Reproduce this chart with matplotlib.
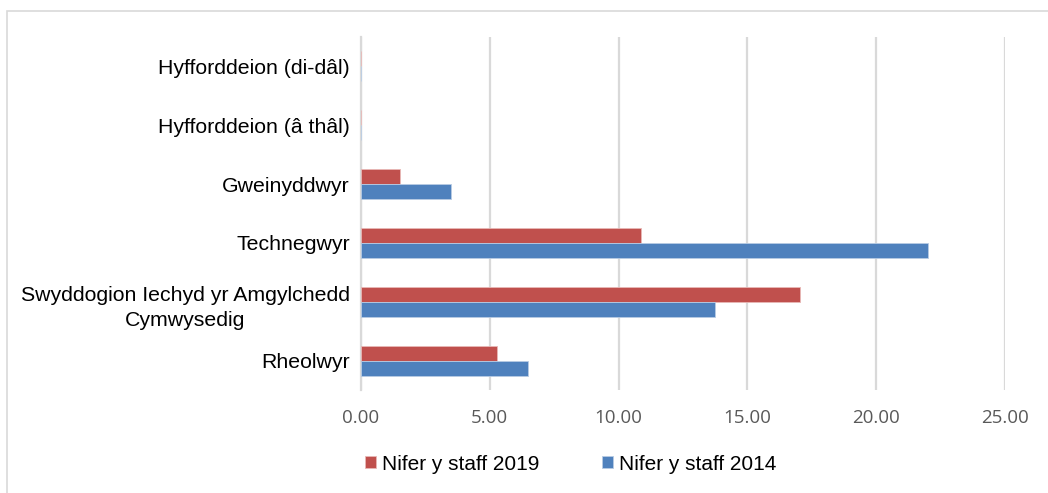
#!/usr/bin/env python3
"""Staff numbers by role, 2014 vs 2019 (horizontal grouped bars)."""

import matplotlib.pyplot as plt
import numpy as np
from matplotlib.patches import Rectangle

categories = [
    "Rheolwyr",
    "Swyddogion Iechyd yr Amgylchedd\nCymwysedig",
    "Technegwyr",
    "Gweinyddwyr",
    "Hyfforddeion (â thâl)",
    "Hyfforddeion (di-dâl)",
]
staff_2019 = [5.27, 17.04, 10.86, 1.50, 0.0, 0.0]
staff_2014 = [6.47, 13.76, 22.02, 3.51, 0.0, 0.0]
xticks = [0, 5, 10, 15, 20, 25]

RED = "#C0504D"
BLUE = "#4F81BD"


def main() -> None:
    fig = plt.figure(figsize=(10.48, 4.93), dpi=100)
    ax = fig.add_axes([361 / 1048, 1 - 390 / 493, (1005 - 361) / 1048, (390 - 37) / 493])

    y = np.arange(len(categories))
    h = 0.255
    ax.barh(y + h / 2, staff_2019, height=h, color=RED, edgecolor="#E8B8B6",
            linewidth=0.6, label="Nifer y staff 2019", zorder=3)
    ax.barh(y - h / 2, staff_2014, height=h, color=BLUE, edgecolor="#B8CCE4",
            linewidth=0.6, label="Nifer y staff 2014", zorder=3)

    ax.set_xlim(0, 25)
    ax.set_ylim(-0.5, len(categories) - 0.5)
    ax.set_xticks(xticks)
    ax.set_xticklabels([f"{v:.2f}" for v in xticks], fontfamily="Open Sans",
                       fontsize=13.5, color="#595959")
    ax.set_yticks(y)
    # wrapped label is drawn separately below, a touch lower like the original
    shown = [c if "\n" not in c else "" for c in categories]
    ax.set_yticklabels(shown, fontfamily="Liberation Sans", fontsize=15.3, color="black")
    for i, c in enumerate(categories):
        if "\n" in c:
            ax.annotate(c, xy=(0, y[i]), xycoords=ax.get_yaxis_transform(),
                        xytext=(-8, -4.5), textcoords="offset points",
                        ha="right", va="center", multialignment="center",
                        linespacing=1.4, fontfamily="Liberation Sans", fontsize=15.3)

    ax.tick_params(axis="both", length=0)
    ax.tick_params(axis="x", pad=14)
    ax.tick_params(axis="y", pad=8)

    ax.grid(axis="x", color="#D9D9D9", linewidth=1.6, zorder=0)
    for side in ["top", "right", "bottom"]:
        ax.spines[side].set_visible(False)
    ax.spines["left"].set_color("#D9D9D9")
    ax.spines["left"].set_linewidth(1.6)

    fig.legend(loc="center left", bbox_to_anchor=(346 / 1048, 1 - 464 / 493),
               ncol=2, frameon=False, handlelength=0.55, handleheight=0.55,
               handletextpad=0.28, columnspacing=3.0,
               prop={"family": "Liberation Sans", "size": 15})

    # chart-area border (runs off right and bottom edges)
    fig.patches.append(Rectangle((7 / 1048, -0.1), 1.2, 1 - 11 / 493 + 0.1,
                                 transform=fig.transFigure, fill=False,
                                 edgecolor="#D9D9D9", linewidth=1.2))

    fig.savefig("out.png", dpi=100)
    plt.close(fig)


if __name__ == "__main__":
    main()
